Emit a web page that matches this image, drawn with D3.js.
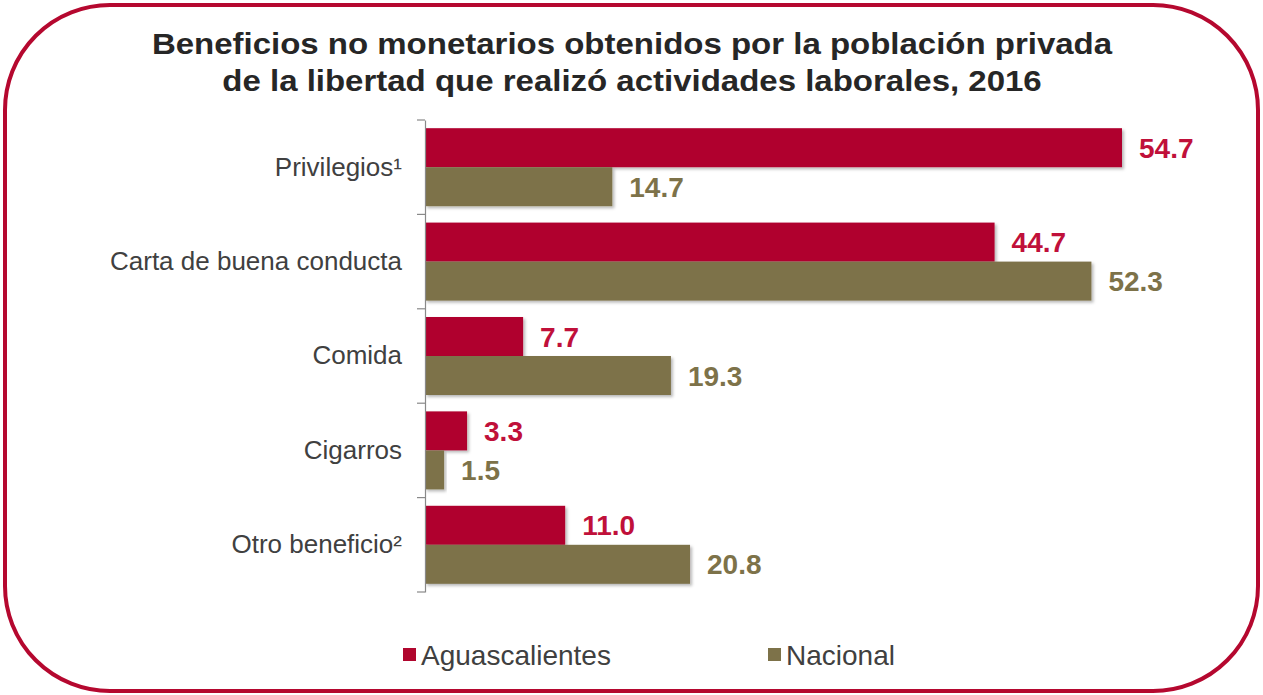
<!DOCTYPE html>
<html>
<head>
<meta charset="utf-8">
<script src="https://cdn.jsdelivr.net/npm/d3@7/dist/d3.min.js"></script>
<style>
  html, body { margin: 0; padding: 0; background: #fff; }
  svg text { font-family: Arial, "Liberation Sans", Helvetica, sans-serif; }
</style>
</head>
<body>
<svg id="chart" width="1263" height="695"></svg>
<script>
// Benefit categories, top to bottom
const categories = ["Privilegios¹", "Carta de buena conducta", "Comida", "Cigarros", "Otro beneficio²"];
// Percentages per series
const aguascalientes = [54.7, 44.7, 7.7, 3.3, 11.0];
const nacional = [14.7, 52.3, 19.3, 1.5, 20.8];
const seriesNames = ["Aguascalientes", "Nacional"];
const titleLines = [
  "Beneficios no monetarios obtenidos por la población privada",
  "de la libertad que realizó actividades laborales, 2016"
];

const FONT = "Arial, 'Liberation Sans', Helvetica, sans-serif";
const barColors = ["#B0062E", "#7D7249"];
const labelColors = ["#C0103A", "#7D7249"];

const svg = d3.select("#chart");

// Rounded frame
svg.append("rect")
  .attr("x", 5).attr("y", 5)
  .attr("width", 1253).attr("height", 686)
  .attr("rx", 105).attr("ry", 105)
  .attr("fill", "#fff")
  .attr("stroke", "#B5082F")
  .attr("stroke-width", 4);

// Soft shadow under bars
const defs = svg.append("defs");
const f = defs.append("filter").attr("id", "shadow")
  .attr("x", "-5%").attr("y", "-20%").attr("width", "115%").attr("height", "150%");
f.append("feDropShadow").attr("dx", 2).attr("dy", 2).attr("stdDeviation", 1.6)
  .attr("flood-color", "#000").attr("flood-opacity", 0.28);

// Title (slightly widened bold face)
svg.append("g")
  .attr("transform", "translate(632,0) scale(1.1,1)")
  .append("text")
  .attr("x", 0).attr("y", 54)
  .attr("text-anchor", "middle")
  .attr("font-family", FONT)
  .attr("font-size", 30).attr("font-weight", "bold")
  .attr("fill", "#262626")
  .selectAll("tspan").data(titleLines).join("tspan")
  .attr("x", 0)
  .attr("dy", (d, i) => i === 0 ? 0 : 37)
  .text(d => d);

const x0 = 425;
const x = d3.scaleLinear().domain([0, 54.7]).range([x0, 1122]);
const y = d3.scaleBand().domain(categories).range([120, 592]).paddingInner(0).paddingOuter(0);
const inner = d3.scaleBand().domain(seriesNames).range([0, y.bandwidth()]).paddingInner(0).paddingOuter(0.21);

const rows = categories.map((c, i) => ({ cat: c, vals: [aguascalientes[i], nacional[i]] }));

const g = svg.append("g");
const groups = g.selectAll("g.row").data(rows).join("g")
  .attr("class", "row")
  .attr("transform", d => `translate(0,${y(d.cat)})`);

groups.selectAll("rect").data(d => d.vals.map((v, k) => ({ v, k })))
  .join("rect")
  .attr("x", x(0))
  .attr("y", d => inner(seriesNames[d.k]))
  .attr("width", d => x(d.v) - x(0))
  .attr("height", inner.bandwidth())
  .attr("fill", d => barColors[d.k])
  .attr("filter", "url(#shadow)");

groups.selectAll("text.val").data(d => d.vals.map((v, k) => ({ v, k })))
  .join("text")
  .attr("class", "val")
  .attr("x", d => x(d.v) + 17)
  .attr("y", d => inner(seriesNames[d.k]) + inner.bandwidth() / 2)
  .attr("dy", "0.36em")
  .attr("font-family", FONT)
  .attr("font-size", 28).attr("font-weight", "bold")
  .attr("fill", d => labelColors[d.k])
  .text(d => d.v.toFixed(1));

// Category axis
const axis = d3.axisLeft(y).tickSize(0).tickPadding(23);
const ax = svg.append("g").attr("transform", `translate(${x0},0)`).call(axis)
  .attr("font-family", FONT);
ax.select(".domain").attr("stroke", "#898989").attr("stroke-width", 1.2);
ax.selectAll(".tick text")
  .attr("font-size", 26).attr("fill", "#404040")
  .attr("font-family", FONT);
// Boundary ticks between categories
const bounds = categories.map(c => y(c)).concat([y.range()[1]]);
ax.selectAll("line.bound").data(bounds).join("line")
  .attr("class", "bound")
  .attr("x1", -8).attr("x2", 0)
  .attr("y1", d => d).attr("y2", d => d)
  .attr("stroke", "#898989").attr("stroke-width", 1.2);

// Legend
const legend = svg.append("g").attr("transform", "translate(0,655)");
const legX = [403, 768];
const li = legend.selectAll("g").data(seriesNames).join("g")
  .attr("transform", (d, i) => `translate(${legX[i]},0)`);
li.append("rect").attr("x", 0).attr("y", -7).attr("width", 13).attr("height", 13)
  .attr("fill", (d, i) => barColors[i]);
li.append("text").attr("x", 18).attr("y", 0).attr("dy", "0.36em")
  .attr("font-family", FONT)
  .attr("font-size", 28).attr("fill", "#404040")
  .text(d => d);
</script>
</body>
</html>
